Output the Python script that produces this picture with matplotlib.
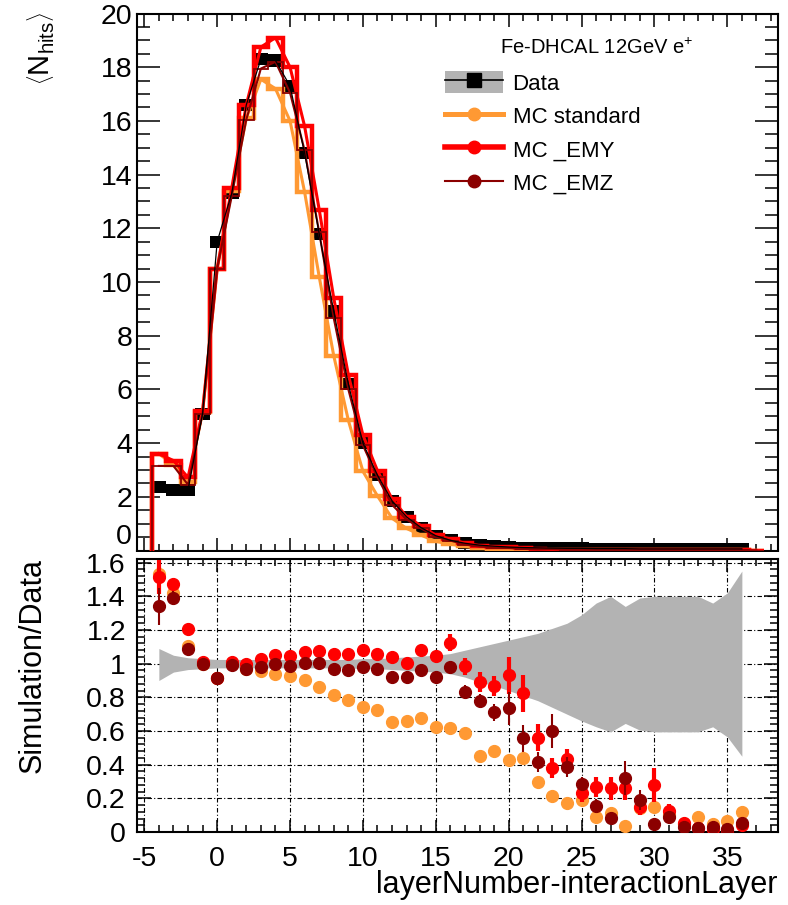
import matplotlib
matplotlib.use("Agg")
import matplotlib.pyplot as plt
import numpy as np
from matplotlib.lines import Line2D
from matplotlib.patches import Patch, Rectangle
from matplotlib.ticker import MultipleLocator

plt.rcParams['font.family'] = ['Liberation Sans', 'DejaVu Sans']
plt.rcParams['axes.unicode_minus'] = False
plt.rcParams['mathtext.fontset'] = 'custom'
plt.rcParams['mathtext.rm'] = 'Liberation Sans'
plt.rcParams['mathtext.it'] = 'Liberation Sans:italic'

# layer relative to the interaction layer
layer = np.arange(-4, 37)
layer_mc = np.arange(-4, 38)

# mean number of hits per layer
nhits_data = [2.35, 2.27, 2.25, 5.1, 11.5, 13.3, 16.6, 18.3, 18.25, 17.3, 14.8,
              11.8, 8.9, 6.2, 4.0, 2.8, 1.85, 1.25, 0.85, 0.55, 0.38, 0.27,
              0.2, 0.16, 0.13, 0.11, 0.1, 0.09, 0.08, 0.08, 0.07, 0.07, 0.07,
              0.06, 0.06, 0.06, 0.06, 0.06, 0.06, 0.06, 0.06]
nhits_std = [3.6, 3.2, 2.55, 5.15, 10.5, 13.4, 16.1, 17.55, 17.2, 16.0, 13.35,
             10.2, 7.25, 4.85, 2.95, 2.03, 1.2, 0.82, 0.57, 0.34, 0.24, 0.15,
             0.09, 0.07, 0.05, 0.045, 0.03, 0.02, 0.015, 0.01, 0.006, 0.008,
             0.003, 0.008, 0.007, 0.005, 0.004, 0.006, 0.003, 0.004, 0.007, 0.0]
nhits_emy = [3.6, 3.35, 2.72, 5.2, 10.5, 13.5, 16.6, 18.75, 19.1, 18.0, 15.8,
             12.7, 9.4, 6.55, 4.3, 2.97, 1.92, 1.26, 0.92, 0.57, 0.43, 0.27,
             0.18, 0.14, 0.12, 0.09, 0.056, 0.034, 0.034, 0.018, 0.019, 0.018,
             0.018, 0.009, 0.02, 0.009, 0.003, 0.001, 0.001, 0.001, 0.002, 0.0]
nhits_emz = [3.15, 3.15, 2.45, 5.1, 10.5, 13.2, 16.05, 17.95, 18.2, 17.05, 14.9,
             11.85, 8.65, 6.0, 3.92, 2.72, 1.7, 1.15, 0.82, 0.51, 0.37, 0.22,
             0.15, 0.11, 0.095, 0.06, 0.042, 0.054, 0.031, 0.023, 0.011, 0.006,
             0.022, 0.013, 0.003, 0.006, 0.002, 0.001, 0.002, 0.001, 0.003, 0.0]

# relative data uncertainty band
band_hi = [1.09, 1.05, 1.035, 1.03, 1.025, 1.025, 1.025, 1.025, 1.025, 1.025,
           1.025, 1.025, 1.025, 1.025, 1.03, 1.03, 1.035, 1.04, 1.045, 1.05,
           1.06, 1.08, 1.10, 1.12, 1.14, 1.16, 1.18, 1.21, 1.24, 1.29, 1.36,
           1.40, 1.34, 1.39, 1.40, 1.40, 1.40, 1.40, 1.36, 1.42, 1.55]
band_lo = [0.90, 0.95, 0.965, 0.97, 0.975, 0.975, 0.975, 0.975, 0.975, 0.975,
           0.975, 0.975, 0.975, 0.975, 0.97, 0.97, 0.965, 0.96, 0.955, 0.95,
           0.94, 0.92, 0.89, 0.87, 0.84, 0.81, 0.78, 0.74, 0.70, 0.66, 0.625,
           0.595, 0.645, 0.605, 0.595, 0.595, 0.595, 0.595, 0.625, 0.565, 0.45]

# simulation / data ratios
ratio_std = [1.535, 1.42, 1.105, 1.0, 0.912, 1.0, 0.97, 0.957, 0.938, 0.926,
             0.902, 0.862, 0.813, 0.783, 0.744, 0.724, 0.651, 0.66, 0.675, 0.625,
             0.62, 0.59, 0.451, 0.48, 0.427, 0.437, 0.295, 0.215, 0.17, 0.19,
             0.091, 0.111, 0.037, 0.14, 0.15, 0.1, 0.05, 0.091, 0.047, 0.067, 0.12]
err_std = [0.04, 0.02, 0.01, 0.01, 0.01, 0.01, 0.01, 0.01, 0.01, 0.01,
           0.01, 0.01, 0.01, 0.01, 0.01, 0.01, 0.01, 0.01, 0.01, 0.01,
           0.02, 0.02, 0.02, 0.02, 0.03, 0.03, 0.02, 0.02, 0.02, 0.02,
           0.02, 0.02, 0.01, 0.02, 0.02, 0.02, 0.01, 0.02, 0.01, 0.02, 0.03]
ratio_emy = [1.515, 1.475, 1.205, 1.01, 0.915, 1.01, 1.0, 1.03, 1.05, 1.045,
             1.07, 1.074, 1.056, 1.056, 1.08, 1.06, 1.04, 1.005, 1.08, 1.045,
             1.124, 0.985, 0.892, 0.866, 0.932, 0.823, 0.56, 0.378, 0.431, 0.23,
             0.269, 0.259, 0.259, 0.15, 0.279, 0.126, 0.055, 0.022, 0.02, 0.012, 0.04]
err_emy = [0.1, 0.03, 0.02, 0.01, 0.01, 0.01, 0.01, 0.01, 0.01, 0.01,
           0.01, 0.01, 0.01, 0.01, 0.02, 0.02, 0.02, 0.02, 0.03, 0.03,
           0.05, 0.05, 0.06, 0.06, 0.11, 0.11, 0.08, 0.06, 0.06, 0.05,
           0.06, 0.07, 0.07, 0.05, 0.1, 0.04, 0.03, 0.02, 0.02, 0.02, 0.03]
ratio_emz = [1.34, 1.39, 1.085, 1.0, 0.912, 0.99, 0.967, 0.98, 0.997, 0.985,
             1.005, 1.005, 0.971, 0.965, 0.981, 0.971, 0.922, 0.922, 0.961, 0.922,
             0.981, 0.833, 0.777, 0.71, 0.734, 0.556, 0.417, 0.6, 0.388, 0.285,
             0.154, 0.081, 0.322, 0.19, 0.047, 0.091, 0.032, 0.025, 0.03, 0.015, 0.055]
err_emz = [0.11, 0.04, 0.02, 0.01, 0.01, 0.01, 0.01, 0.01, 0.01, 0.01,
           0.01, 0.01, 0.01, 0.01, 0.01, 0.01, 0.02, 0.02, 0.02, 0.02,
           0.03, 0.04, 0.04, 0.05, 0.1, 0.08, 0.06, 0.1, 0.06, 0.04,
           0.04, 0.03, 0.1, 0.06, 0.03, 0.03, 0.02, 0.02, 0.02, 0.02, 0.03]

c_std = '#ff9933'
c_emy = '#ff0000'
c_emz = '#8b0000'
c_band = '#b3b3b3'

W, H = 788, 905
fig = plt.figure(figsize=(W / 100, H / 100), dpi=100)
ax1 = fig.add_axes([137 / W, 1 - 550.5 / H, 641.3 / W, 537 / H])
ax2 = fig.add_axes([137 / W, 1 - 832 / H, 641.3 / W, 272.7 / H])
ax1.set_zorder(0)
ax2.set_zorder(1)

# lower pad hides the bottom of the upper pad
fig.patches.append(Rectangle((0, 0), 1, 1 - 552 / H, transform=fig.transFigure,
                             facecolor='white', edgecolor='none', zorder=0.5))

# ---- upper pad
edges = np.arange(-4.5, 38.0, 1.0)
ax1.bar(layer, 0.45, bottom=np.array(nhits_data) - 0.225, width=1.0,
        color='black', zorder=2)
ax1.stairs(nhits_std, edges, color=c_std, lw=3.2, zorder=3)
ax1.plot(layer_mc, nhits_std, color=c_std, lw=2.2, zorder=3)
ax1.stairs(nhits_emy, edges, color=c_emy, lw=3.2, zorder=4)
ax1.plot(layer_mc, nhits_emy, color=c_emy, lw=2.2, zorder=4)
ax1.stairs(nhits_emz, edges, color=c_emz, lw=1.3, zorder=5)
ax1.plot(layer_mc, nhits_emz, color=c_emz, lw=1.5, zorder=5)
ax1.plot(layer, nhits_data, color='black', lw=0.9, zorder=6)

ax1.set_xlim(-5.5, 38.5)
ax1.set_ylim(0, 20)
ax1.xaxis.set_major_locator(MultipleLocator(5))
ax1.xaxis.set_minor_locator(MultipleLocator(1))
ax1.set_yticks(np.arange(0, 21, 2))
ax1.yaxis.set_minor_locator(MultipleLocator(0.5))
ax1.tick_params(which='both', direction='in', top=True, right=True,
                labelbottom=False, width=1.1, labelsize=20.5)
ax1.tick_params(axis='y', which='major', length=16.5, pad=3.5)
ax1.tick_params(axis='y', which='minor', length=9.4)
ax1.tick_params(axis='x', which='major', length=9.4)
ax1.tick_params(axis='x', which='minor', length=5)
# keep the "0" of the upper pad clear of the lower pad's "1.6"
ax1.yaxis.get_major_ticks()[0].label1.set_verticalalignment('bottom')
for sp in ax1.spines.values():
    sp.set_linewidth(1.5)

handles = [
    (Patch(facecolor=c_band, edgecolor='none'),
     Line2D([], [], color='black', lw=1.2, marker='s', ms=9.5)),
    Line2D([], [], color=c_std, lw=3.6, marker='o', ms=9),
    Line2D([], [], color=c_emy, lw=4, marker='o', ms=9),
    Line2D([], [], color=c_emz, lw=1.5, marker='o', ms=9),
]
ax1.legend(handles, ['Data', 'MC standard', 'MC _EMY', 'MC _EMZ'],
           loc='upper left', bbox_to_anchor=(0.48, 0.893), frameon=False,
           fontsize=16, handlelength=2.6, handleheight=1.15,
           handletextpad=0.45, labelspacing=0.45, borderpad=0, borderaxespad=0)
ax1.text(0.717, 0.936, 'Fe-DHCAL 12GeV e$^{+}$', transform=ax1.transAxes,
         ha='center', va='center', fontsize=14.5)

# ---- lower pad
ax2.fill_between(layer, band_lo, band_hi, color=c_band, lw=0, zorder=1)
ax2.errorbar(layer, ratio_std, yerr=err_std, fmt='o', color=c_std, ms=8.5,
             elinewidth=3, capsize=0, zorder=3)
ax2.errorbar(layer, ratio_emy, yerr=err_emy, fmt='o', color=c_emy, ms=8.5,
             elinewidth=3, capsize=0, zorder=4)
ax2.errorbar(layer, ratio_emz, yerr=err_emz, fmt='o', color=c_emz, ms=8.5,
             elinewidth=1.5, capsize=0, zorder=5)

ax2.set_xlim(-5.5, 38.5)
ax2.set_ylim(0, 1.62)
ax2.xaxis.set_major_locator(MultipleLocator(5))
ax2.xaxis.set_minor_locator(MultipleLocator(1))
ax2.yaxis.set_minor_locator(MultipleLocator(0.04))
ax2.set_yticks([0, 0.2, 0.4, 0.6, 0.8, 1.0, 1.2, 1.4, 1.6])
ax2.set_yticklabels(['0', '0.2', '0.4', '0.6', '0.8', '1', '1.2', '1.4', '1.6'])
ax2.set_axisbelow(True)
ax2.grid(True, which='major', color='black', lw=0.8, linestyle=(0, (4, 2, 1, 2)))
ax2.tick_params(which='both', direction='in', top=True, right=True,
                width=1.1, labelsize=20.5)
ax2.tick_params(axis='y', which='major', length=10, pad=8)
ax2.tick_params(axis='y', which='minor', length=5.5)
ax2.tick_params(axis='x', which='major', length=9, pad=10)
ax2.tick_params(axis='x', which='minor', length=5)
for sp in ax2.spines.values():
    sp.set_linewidth(1.5)

fig.text(40 / W, 1 - 12 / H,
         r'$\left\langle \mathrm{N}_{\mathrm{hits}}\right\rangle$',
         rotation=90, ha='center', va='top', fontsize=21)
fig.text(33 / W, 1 - 558 / H, 'Simulation/Data', rotation=90,
         ha='center', va='top', fontsize=22)
fig.text(778 / W, 1 - 885 / H, 'layerNumber-interactionLayer',
         ha='right', va='center', fontsize=22)

fig.savefig('out.png', dpi=100)
